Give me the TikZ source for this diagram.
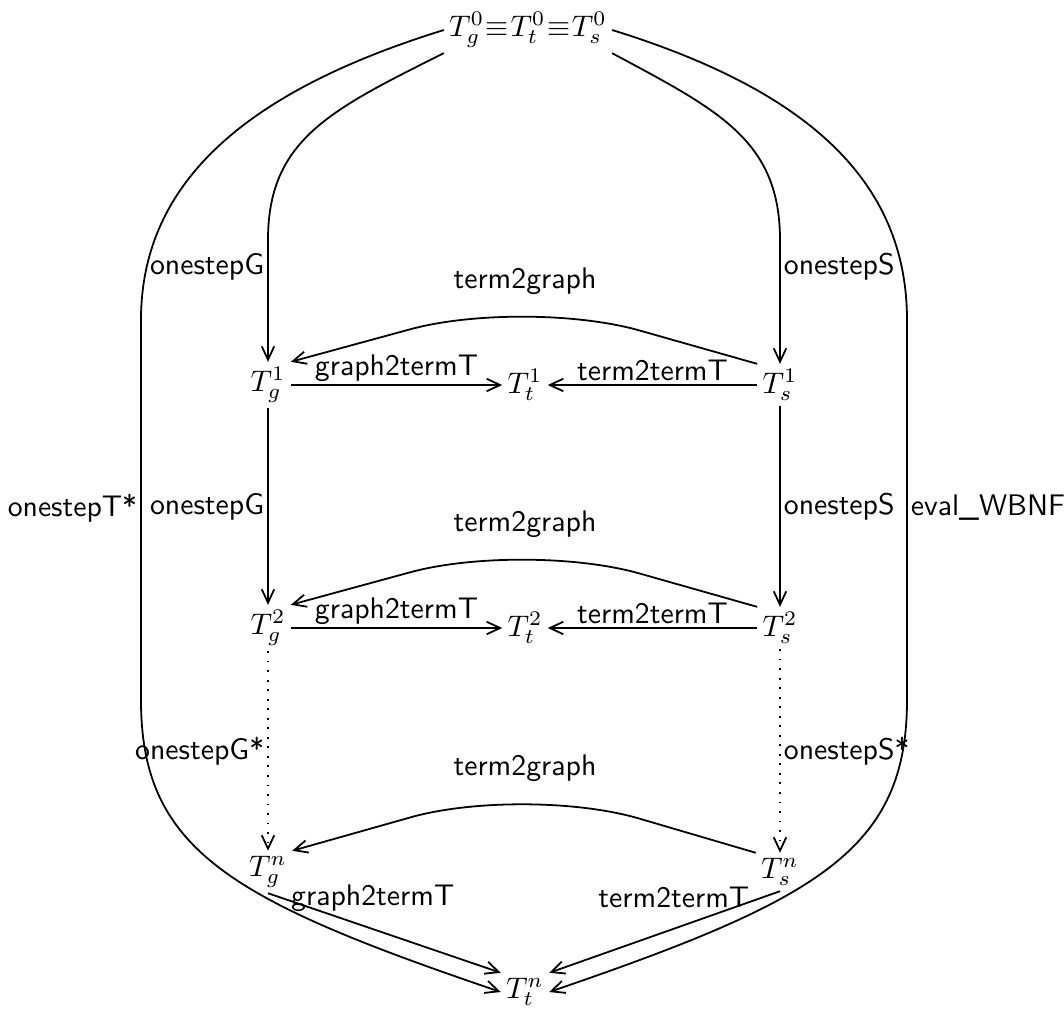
\documentclass[tikz,border=0pt]{standalone}
\usetikzlibrary{arrows.meta}
\begin{document}
\begin{tikzpicture}[x=0.336pt,y=-0.336pt,line width=0.6pt,
  arr/.style={-{Straight Barb[length=4.5pt,width=4.2pt]}},
  obj/.style={inner sep=1.5pt},
  lab/.style={font=\sffamily,inner sep=1pt},
  dots/.style={dash pattern=on 0.6pt off 2.6pt},
  bump/.style={arr,rounded corners=40pt}]
\useasboundingbox (0,0) rectangle (1064,1016);

% objects
\node[obj] (top) at (528,30) {$T^0_g\mkern1mu{\equiv}\mkern1mu T^0_t\mkern1mu{\equiv}\mkern1mu T^0_s$};
\node[obj] (g1) at (268,385) {$T^1_g$};
\node[obj] (t1) at (525,385) {$T^1_t$};
\node[obj] (s1) at (780,385) {$T^1_s$};
\node[obj] (g2) at (268,628) {$T^2_g$};
\node[obj] (t2) at (525,628) {$T^2_t$};
\node[obj] (s2) at (780,628) {$T^2_s$};
\node[obj] (gn) at (268,872) {$T^n_g$};
\node[obj] (sn) at (780,872) {$T^n_s$};
\node[obj] (tn) at (525,992) {$T^n_t$};

% first steps from the common start
\draw[arr] (top.south west) .. controls (330,110) and (268,140) .. (268,240)
  -- (268,267) node[lab,left]{onestepG} -- (g1.north);
\draw[arr] (top.south east) .. controls (718,110) and (780,140) .. (780,240)
  -- (780,267) node[lab,right]{onestepS} -- (s1.north);

% outer evaluations
\draw[arr] (top.west) .. controls (250,90) and (141,180) .. (141,320)
  -- (141,508) node[lab,left]{onestepT*} -- (141,700)
  .. controls (141,850) and (230,900) .. (tn.west);
\draw[arr] (top.east) .. controls (806,90) and (907,180) .. (907,320)
  -- (907,508) node[lab,right]{eval\_WBNF} -- (907,700)
  .. controls (907,850) and (818,900) .. (tn.east);

% row 1
\draw[bump] (s1.north west) -- (525,298) node[lab,above]{term2graph} -- (g1.north east);
\draw[arr] (g1) -- node[lab,above]{graph2termT} (t1);
\draw[arr] (s1) -- node[lab,above]{term2termT} (t1);

% second steps
\draw[arr] (g1) -- node[lab,left]{onestepG} (g2);
\draw[arr] (s1) -- node[lab,right]{onestepS} (s2);

% row 2
\draw[bump] (s2.north west) -- (525,541) node[lab,above]{term2graph} -- (g2.north east);
\draw[arr] (g2) -- node[lab,above]{graph2termT} (t2);
\draw[arr] (s2) -- node[lab,above]{term2termT} (t2);

% remaining steps
\draw[arr,dots] (g2) -- node[lab,left]{onestepG*} (gn);
\draw[arr,dots] (s2) -- node[lab,right]{onestepS*} (sn);

% row n
\draw[bump] (sn.north west) -- (525,785) node[lab,above]{term2graph} -- (gn.north east);
\draw[arr] (gn.south) -- node[lab,pos=0.45,yshift=10.4pt]{graph2termT} (tn.north west);
\draw[arr] (sn.south) -- node[lab,pos=0.46,yshift=10.4pt]{term2termT} (tn.north east);
\end{tikzpicture}
\end{document}
